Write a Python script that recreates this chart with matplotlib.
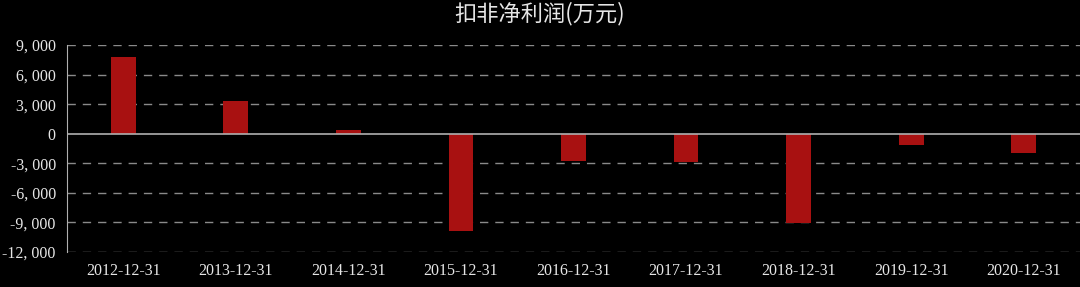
import numpy as np
import matplotlib.pyplot as plt
from matplotlib.ticker import FuncFormatter

dates = ["2012-12-31", "2013-12-31", "2014-12-31", "2015-12-31", "2016-12-31",
         "2017-12-31", "2018-12-31", "2019-12-31", "2020-12-31"]
profit = [7800, 3300, 350, -9850, -2800, -2900, -9050, -1100, -1950]
yticks = [9000, 6000, 3000, 0, -3000, -6000, -9000, -12000]

plt.rcParams['font.family'] = ['Noto Sans CJK SC', 'DejaVu Sans']

fig = plt.figure(figsize=(10.8, 2.87), dpi=100, facecolor="black")
ax = fig.add_axes([0.062, 0.122, 0.938, 0.721], facecolor="black")

x = np.arange(len(dates))
ax.bar(x, profit, width=0.22, color="#a81111", zorder=3)

ax.set_xlim(-0.5, len(dates) - 0.5)
ax.set_ylim(-12000, 9000)
ax.set_yticks(yticks)
ax.yaxis.set_major_formatter(FuncFormatter(lambda v, p: "{:,}".format(int(v)).replace(",", ", ")))
ax.set_xticks(x)
ax.set_xticklabels(dates)

for t in ax.get_xticklabels() + ax.get_yticklabels():
    t.set_family(["Liberation Serif", "DejaVu Serif"])
    t.set_fontsize(11.5)
    t.set_color("#e6e6e6")
ax.tick_params(axis="both", length=0, pad=8)

for v in yticks:
    if v != 0:
        ax.axhline(v, color="#8a8a8a", lw=1, ls=(0, (6, 5)), zorder=1)
ax.axhline(0, color="#b0b0b0", lw=1.2, zorder=4)

for s in ["top", "right", "bottom"]:
    ax.spines[s].set_visible(False)
ax.spines["left"].set_color("#b0b0b0")

fig.suptitle("扣非净利润(万元)", color="#e6e6e6", fontsize=16, y=0.995)

plt.savefig("out.png", dpi=100, facecolor="black")
